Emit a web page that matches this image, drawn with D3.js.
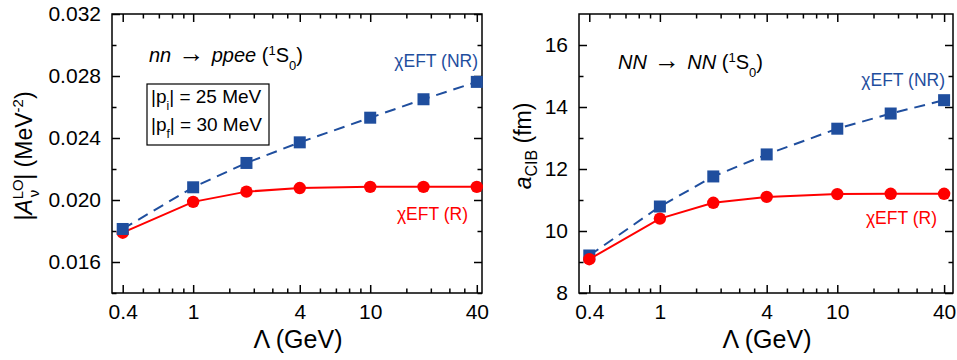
<!DOCTYPE html>
<html>
<head>
<meta charset="utf-8">
<script src="https://cdn.jsdelivr.net/npm/d3@7"></script>
<style>
  body { margin: 0; background: #fff; }
  svg { display: block; font-family: "Liberation Sans", Arial, sans-serif; }
</style>
</head>
<body>
<svg id="chart" width="957" height="360"></svg>
<script>
// Cutoff values (GeV)
const lambda = [0.4, 1, 2, 4, 10, 20, 40];
const xMajorTicks = [0.4, 1, 4, 10, 40];
const xMinorTicks = [0.52, 0.64, 0.76, 0.88, 1.6, 2.2, 2.8, 3.4, 5.2, 6.4, 7.6, 8.8, 16, 22, 28, 34];

// Left panel: |A_v^LO| (MeV^-2)
const ampNR = [0.01813, 0.02082, 0.02239, 0.02372, 0.02531, 0.0265, 0.02762];
const ampR = [0.01789, 0.01988, 0.02054, 0.02077, 0.02085, 0.02085, 0.02085];
const ampMajorTicks = [0.016, 0.020, 0.024, 0.028, 0.032];
const ampMinorTicks = [0.014, 0.018, 0.022, 0.026, 0.030];

// Right panel: a_CIB (fm)
const aNR = [9.21, 10.79, 11.76, 12.47, 13.3, 13.79, 14.22];
const aR = [9.09, 10.4, 10.91, 11.1, 11.19, 11.2, 11.2];
const aMajorTicks = [8, 10, 12, 14, 16];
const aMinorTicks = [9, 11, 13, 15];

const colors = { nr: "#1f4e9e", r: "#ff0000" };

const svg = d3.select("#chart");

function drawPanel(p) {
    const x = d3.scaleLog().domain(p.xDomain).range([p.left, p.right]);
    const y = d3.scaleLinear().domain(p.yDomain).range([p.bottom, p.top]);
    const g = svg.append("g");

    // ticks (inward, mirrored)
    const mk = (axis, scale, values, size, pos, labels) => {
        const a = axis(scale).tickValues(values).tickSize(-size).tickPadding(labels ? p.pad : 0)
            .tickFormat(labels ? labels : () => "");
        const ag = g.append("g").attr("transform", pos).call(a);
        ag.select(".domain").remove();
        ag.selectAll("line").attr("stroke", "#000").attr("stroke-width", 1.5);
        ag.selectAll("text").attr("fill", "#000").style("font-size", "21px").attr("font-family", null);
        return ag;
    };
    const fmtX = (d) => String(d);
    mk(d3.axisBottom, x, xMajorTicks, 8, `translate(0,${p.bottom})`, fmtX);
    mk(d3.axisBottom, x, xMinorTicks, 4.5, `translate(0,${p.bottom})`);
    mk(d3.axisTop, x, xMajorTicks, 8, `translate(0,${p.top})`);
    mk(d3.axisTop, x, xMinorTicks, 4.5, `translate(0,${p.top})`);
    mk(d3.axisLeft, y, p.yMajor, 8, `translate(${p.left},0)`, p.yFormat);
    mk(d3.axisLeft, y, p.yMinor, 4.5, `translate(${p.left},0)`);
    mk(d3.axisRight, y, p.yMajor, 8, `translate(${p.right},0)`);
    mk(d3.axisRight, y, p.yMinor, 4.5, `translate(${p.right},0)`);

    // frame
    g.append("rect")
        .attr("x", p.left).attr("y", p.top)
        .attr("width", p.right - p.left).attr("height", p.bottom - p.top)
        .attr("fill", "none").attr("stroke", "#000").attr("stroke-width", 1.5);

    const line = d3.line().x((d) => x(d[0])).y((d) => y(d[1]));

    const drawNR = () => {
        g.append("path")
            .attr("d", line(d3.zip(lambda, p.nr)))
            .attr("fill", "none").attr("stroke", colors.nr)
            .attr("stroke-width", 2).attr("stroke-dasharray", "11,7");
        g.selectAll(null).data(d3.zip(lambda, p.nr)).enter().append("rect")
            .attr("x", (d) => x(d[0]) - 6).attr("y", (d) => y(d[1]) - 6)
            .attr("width", 12).attr("height", 12)
            .attr("fill", colors.nr);
    };
    const drawR = () => {
        g.append("path")
            .attr("d", line(d3.zip(lambda, p.r)))
            .attr("fill", "none").attr("stroke", colors.r).attr("stroke-width", 2);
        g.selectAll(null).data(d3.zip(lambda, p.r)).enter().append("circle")
            .attr("cx", (d) => x(d[0])).attr("cy", (d) => y(d[1]))
            .attr("r", 6.2).attr("fill", colors.r);
    };
    if (p.nrOnTop) { drawR(); drawNR(); } else { drawNR(); drawR(); }

    // x-axis title
    g.append("text")
        .attr("x", (p.left + p.right) / 2 + 1).attr("y", 348)
        .attr("text-anchor", "middle").style("font-size", "25px")
        .text("\u039B (GeV)");

    // series labels
    g.append("text").attr("x", p.nrLabel[0]).attr("y", p.nrLabel[1])
        .attr("text-anchor", "end").attr("fill", colors.nr).style("font-size", "17.5px")
        .text("\u03C7EFT (NR)");
    g.append("text").attr("x", p.rLabel[0]).attr("y", p.rLabel[1])
        .attr("text-anchor", "end").attr("fill", colors.r).style("font-size", "17.5px")
        .text("\u03C7EFT (R)");

    return g;
}

// Left panel
const gl = drawPanel({
    left: 112, right: 482, top: 14, bottom: 293,
    xDomain: [0.348, 42.8], yDomain: [0.014, 0.032],
    yMajor: ampMajorTicks, yMinor: ampMinorTicks,
    yFormat: d3.format(".3f"), pad: 11,
    nr: ampNR, r: ampR, nrOnTop: true,
    nrLabel: [478, 67], rLabel: [468, 220],
});

// Right panel
const gr = drawPanel({
    left: 579, right: 953, top: 14, bottom: 293,
    xDomain: [0.35, 44.9], yDomain: [8, 17],
    yMajor: aMajorTicks, yMinor: aMinorTicks,
    yFormat: d3.format("d"), pad: 11,
    nr: aNR, r: aR, nrOnTop: false,
    nrLabel: [945, 86], rLabel: [937, 224],
});

// Process labels
function processLabel(g, xPos, yPos, parts) {
    const t = g.append("text").attr("x", xPos).attr("y", yPos).style("font-size", "20px");
    parts.forEach((pt) => {
        const s = t.append("tspan").text(pt.t);
        if (pt.i) s.style("font-style", "italic");
        if (pt.arrow) s.style("font-size", "26px");
        if (pt.sup) s.attr("baseline-shift", "super").style("font-size", "13px");
        if (pt.sub) s.attr("baseline-shift", "sub").style("font-size", "13px");
    });
}
processLabel(gl, 149, 62, [
    { t: "nn", i: true }, { t: " \u2192 ", arrow: true }, { t: "ppee", i: true }, { t: " (" },
    { t: "1", sup: true }, { t: "S" }, { t: "0", sub: true }, { t: ")" },
]);
processLabel(gr, 618, 69, [
    { t: "NN", i: true }, { t: " \u2192 ", arrow: true }, { t: "NN", i: true }, { t: " (" },
    { t: "1", sup: true }, { t: "S" }, { t: "0", sub: true }, { t: ")" },
]);

// Momentum box
gl.append("rect").attr("x", 147).attr("y", 84).attr("width", 122).attr("height", 61)
    .attr("fill", "#fff").attr("stroke", "#000").attr("stroke-width", 1.2);
[["i", "25", 103], ["f", "30", 131]].forEach(([s, v, yy]) => {
    const t = gl.append("text").attr("x", 151).attr("y", yy).style("font-size", "19px");
    t.append("tspan").text("|p");
    t.append("tspan").attr("baseline-shift", "sub").style("font-size", "12px").text(s);
    t.append("tspan").text(`| = ${v} MeV`);
});

// Y-axis titles (rotated)
const yl = svg.append("text")
    .attr("transform", "translate(32,156) rotate(-90)")
    .attr("text-anchor", "middle").style("font-size", "23px");
yl.append("tspan").text("|");
yl.append("tspan").style("font-style", "italic").text("A");
yl.append("tspan").attr("dy", -9).style("font-size", "15px").text("LO");
yl.append("tspan").attr("dx", -18).attr("dy", 16).style("font-size", "15px").text("\u03BD");
yl.append("tspan").attr("dx", 10).attr("dy", -7).text("| (MeV");
yl.append("tspan").attr("dy", -9).style("font-size", "15px").text("-2");
yl.append("tspan").attr("dy", 9).text(")");

const yr = svg.append("text")
    .attr("transform", "translate(531,146) rotate(-90)")
    .attr("text-anchor", "middle").style("font-size", "23px");
yr.append("tspan").style("font-style", "italic").text("a");
yr.append("tspan").attr("dy", 6).style("font-size", "16px").text("CIB");
yr.append("tspan").attr("dy", -6).text(" (fm)");
</script>
</body>
</html>
